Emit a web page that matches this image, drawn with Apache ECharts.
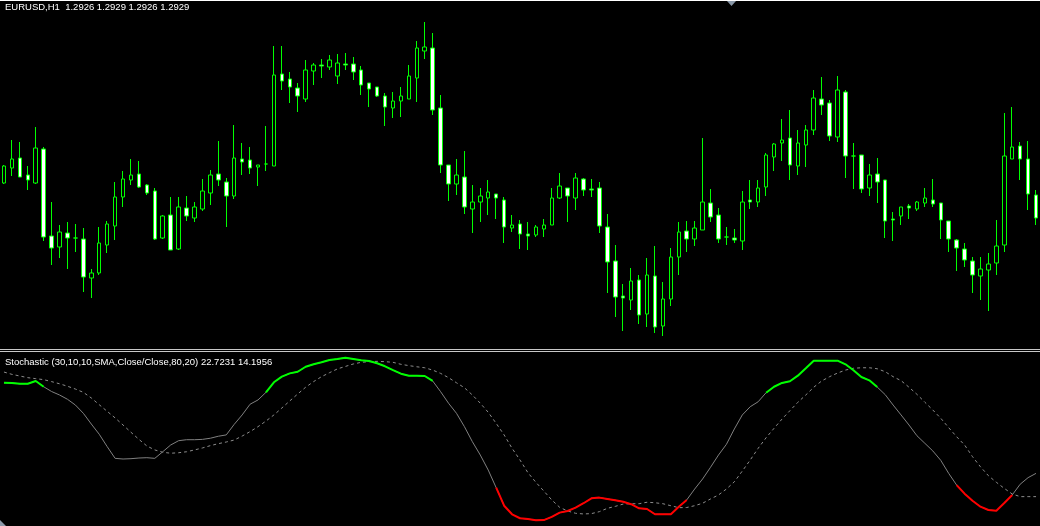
<!DOCTYPE html>
<html><head><meta charset="utf-8">
<script src="https://cdn.jsdelivr.net/npm/echarts@6/dist/echarts.min.js"></script>
<style>html,body{margin:0;padding:0;background:#000;overflow:hidden}#c{width:1040px;height:526px}</style>
</head><body><div id="c"></div>
<script>
// EURUSD H1 candles (open, close, low, high), oldest -> newest as shown
const opens = [
1.2947,1.2962,1.2972,1.2955,1.2947,1.2981,1.2894,1.2883,1.2897,1.2892,
1.2891,1.2852,1.2857,1.2885,1.2904,1.2933,1.2950,1.2956,1.2945,1.2939,
1.2892,1.2915,1.2881,1.2922,1.2912,1.2921,1.2937,1.2956,1.2948,1.2934,
1.2971,1.2970,1.2963,1.2966,1.2964,1.3056,1.3051,1.3042,1.3031,1.3059,
1.3065,1.3063,1.3054,1.3066,1.3066,1.3060,1.3047,1.3043,1.3034,1.3022,
1.3029,1.3031,1.3052,1.3079,1.3082,1.3022,1.2965,1.2946,1.2953,1.2921,
1.2928,1.2932,1.2936,1.2930,1.2902,1.2906,1.2896,1.2895,1.2901,1.2905,
1.2932,1.2942,1.2932,1.2951,1.2941,1.2942,1.2903,1.2869,1.2834,1.2830,
1.2850,1.2816,1.2854,1.2804,1.2831,1.2873,1.2899,1.2891,1.2900,1.2927,
1.2915,1.2893,1.2892,1.2889,1.2930,1.2928,1.2943,1.2973,1.2987,1.2992,
1.2964,1.2985,1.3000,1.3031,1.3027,1.2993,1.3038,1.2974,1.2975,1.2942,
1.2956,1.2950,1.2911,1.2914,1.2924,1.2921,1.2927,1.2930,1.2927,1.2909,
1.2890,1.2881,1.2869,1.2854,1.2860,1.2867,1.2885,1.2971,1.2984,1.2971,
1.2935];
const closes = [
1.2964,1.2971,1.2953,1.2950,1.2982,1.2893,1.2882,1.2898,1.2892,1.2892,
1.2853,1.2857,1.2887,1.2906,1.2933,1.2951,1.2955,1.2943,1.2937,1.2891,
1.2914,1.2880,1.2923,1.2914,1.2923,1.2939,1.2955,1.2950,1.2934,1.2972,
1.2968,1.2962,1.2965,1.2966,1.3055,1.3049,1.3043,1.3034,1.3060,1.3065,
1.3064,1.3070,1.3067,1.3065,1.3058,1.3045,1.3041,1.3034,1.3023,1.3029,
1.3034,1.3054,1.3082,1.3083,1.3020,1.2965,1.2946,1.2955,1.2923,1.2928,
1.2934,1.2938,1.2932,1.2903,1.2905,1.2896,1.2894,1.2903,1.2905,1.2932,
1.2944,1.2934,1.2952,1.2940,1.2940,1.2904,1.2868,1.2833,1.2832,1.2849,
1.2815,1.2855,1.2803,1.2831,1.2873,1.2898,1.2891,1.2902,1.2928,1.2913,
1.2891,1.2893,1.2890,1.2928,1.2928,1.2942,1.2975,1.2986,1.2990,1.2965,
1.2987,1.3000,1.3032,1.3025,1.2994,1.3040,1.2974,1.2974,1.2941,1.2955,
1.2948,1.2909,1.2910,1.2923,1.2922,1.2928,1.2932,1.2926,1.2910,1.2891,
1.2882,1.2870,1.2855,1.2861,1.2866,1.2884,1.2974,1.2983,1.2971,1.2936,
1.2912];
const lows = [
1.2946,1.2954,1.2953,1.2940,1.2946,1.2889,1.2865,1.2872,1.2861,1.2878,
1.2838,1.2832,1.2855,1.2877,1.2890,1.2923,1.2945,1.2942,1.2935,1.2890,
1.2891,1.2880,1.2880,1.2909,1.2908,1.2919,1.2925,1.2944,1.2903,1.2931,
1.2955,1.2956,1.2944,1.2959,1.2964,1.3040,1.3027,1.3018,1.3028,1.3045,
1.3052,1.3060,1.3046,1.3060,1.3050,1.3035,1.3023,1.3033,1.3004,1.3012,
1.3013,1.3031,1.3028,1.3071,1.3015,1.2957,1.2929,1.2935,1.2916,1.2897,
1.2908,1.2915,1.2911,1.2887,1.2898,1.2881,1.2880,1.2893,1.2893,1.2905,
1.2931,1.2908,1.2920,1.2934,1.2933,1.2897,1.2837,1.2813,1.2799,1.2820,
1.2806,1.2803,1.2797,1.2794,1.2824,1.2855,1.2878,1.2884,1.2900,1.2908,
1.2887,1.2885,1.2887,1.2880,1.2921,1.2923,1.2934,1.2959,1.2969,1.2950,
1.2955,1.2963,1.2995,1.3015,1.2989,1.2988,1.2952,1.2941,1.2937,1.2934,
1.2927,1.2892,1.2889,1.2905,1.2911,1.2919,1.2923,1.2923,1.2891,1.2878,
1.2859,1.2863,1.2837,1.2830,1.2819,1.2855,1.2878,1.2971,1.2950,1.2920,
1.2905];
const highs = [
1.2965,1.2990,1.2988,1.2964,1.3003,1.2983,1.2928,1.2905,1.2908,1.2906,
1.2902,1.2861,1.2903,1.2909,1.2948,1.2959,1.2971,1.2969,1.2946,1.2942,
1.2915,1.2933,1.2933,1.2934,1.2928,1.2951,1.2960,1.2989,1.2952,1.3005,
1.2987,1.2983,1.2965,1.3004,1.3084,1.3084,1.3058,1.3047,1.3070,1.3067,
1.3071,1.3075,1.3076,1.3077,1.3073,1.3064,1.3047,1.3043,1.3037,1.3038,
1.3043,1.3065,1.3089,1.3108,1.3097,1.3035,1.2965,1.2971,1.2979,1.2945,
1.2942,1.2950,1.2936,1.2933,1.2915,1.2910,1.2908,1.2905,1.2911,1.2942,
1.2957,1.2942,1.2957,1.2952,1.2951,1.2948,1.2916,1.2885,1.2846,1.2862,
1.2855,1.2872,1.2884,1.2848,1.2882,1.2908,1.2909,1.2909,1.2992,1.2941,
1.2922,1.2903,1.2901,1.2939,1.2950,1.2950,1.2977,1.2987,1.3011,1.3020,
1.3000,1.3005,1.3040,1.3053,1.3030,1.3054,1.3040,1.2987,1.2975,1.2966,
1.2972,1.2950,1.2918,1.2923,1.2926,1.2929,1.2942,1.2951,1.2927,1.2909,
1.2891,1.2887,1.2873,1.2873,1.2877,1.2910,1.3017,1.3023,1.2988,1.2989,
1.2940];
// Stochastic (30,10,10) main and signal lines
const stochMain = [
84.8,84.7,84.2,84.2,85.9,82.4,79.5,77.4,74.8,71.3,
66.3,59.8,53.6,46.1,39.0,38.6,38.8,39.2,39.4,39.0,
43.0,47.1,49.7,50.3,50.3,50.5,51.2,52.4,53.2,59.6,
65.3,71.8,74.4,79.0,85.1,88.5,90.5,91.5,94.5,96.0,
97.2,98.6,99.2,100.0,99.2,98.4,98.0,96.6,94.8,92.5,
90.3,89.1,89.1,88.9,85.9,79.4,72.4,66.3,58.2,49.1,
41.0,31.9,21.2,10.3,5.1,2.7,2.2,1.5,1.6,3.5,
6.1,7.1,9.1,11.8,14.8,15.2,14.4,13.6,12.7,11.2,
8.7,8.3,5.1,5.1,5.1,9.7,13.8,20.4,26.5,33.6,
41.0,47.5,56.8,65.3,70.3,73.3,78.8,82.4,84.7,85.7,
89.1,93.6,98.2,98.2,98.2,98.2,96.0,92.4,88.3,86.3,
82.2,77.6,71.3,65.3,59.2,52.7,48.1,43.5,37.8,29.9,
22.8,17.6,13.3,9.7,7.7,7.3,11.9,16.8,23.3,27.3,
29.9];
const stochSignal = [
91.3,89.9,88.9,87.9,87.3,86.7,85.5,84.2,82.7,81.0,
79.0,75.6,71.5,67.5,63.5,59.2,54.8,50.5,46.5,44.1,
42.7,42.1,42.4,43.0,44.1,45.3,46.7,47.9,48.9,50.1,
52.5,55.2,58.2,61.6,65.3,69.5,73.8,78.0,82.1,85.5,
88.5,90.9,93.2,94.7,96.2,97.2,97.6,97.8,97.6,97.2,
96.0,95.2,94.5,93.9,92.5,90.5,87.9,84.8,81.8,77.4,
72.4,66.9,60.2,53.2,45.1,38.0,30.3,24.5,19.2,13.8,
9.3,7.1,5.7,5.3,5.5,6.7,8.7,9.9,11.3,11.5,
11.5,12.4,12.1,11.5,10.3,9.1,9.2,10.3,11.8,14.4,
16.8,20.4,24.8,31.3,38.0,45.1,51.5,57.2,62.8,67.9,
73.0,77.4,82.1,85.9,88.5,90.7,92.5,93.6,93.9,93.9,
93.3,91.5,88.5,86.1,82.1,77.8,73.0,68.3,63.3,57.6,
52.1,47.1,40.0,33.9,28.5,24.5,20.8,17.4,15.8,15.8,
15.8];
const levelUpper = 80;
const levelLower = 20;
const headerText = 'EURUSD,H1  1.2926 1.2929 1.2926 1.2929';
const stochText = 'Stochastic (30,10,10,SMA,Close/Close,80,20) 22.7231 14.1956';

const barIdx = opens.map((_, i) => String(i));
const candles = opens.map((o, i) => [o, closes[i], lows[i], highs[i]]);
function levelBuffer(test) {
  return stochMain.map((v, i) =>
    (test(v) || (i + 1 < stochMain.length && test(stochMain[i + 1]))) ? v : null);
}
const greenBuf = levelBuffer(v => v > levelUpper);
const redBuf = levelBuffer(v => v < levelLower);

const chart = echarts.init(document.getElementById('c'), null, {renderer: 'canvas'});
const FONT = 'Liberation Sans';
chart.setOption({
  backgroundColor: '#000',
  animation: false,
  title: [
    {text: headerText, left: 5, top: 2, padding: 0,
     textStyle: {color: '#ffffff', fontSize: 9.5, fontWeight: 'normal', fontFamily: FONT}},
    {text: stochText, left: 5, top: 357, padding: 0,
     textStyle: {color: '#ffffff', fontSize: 9.5, fontWeight: 'normal', fontFamily: FONT}}
  ],
  grid: [
    {left: -2.5, top: 0, width: 1048, height: 348},
    {left: -2.5, top: 357.7, width: 1048, height: 165}
  ],
  xAxis: [
    {type: 'category', data: barIdx, gridIndex: 0, show: false, boundaryGap: true},
    {type: 'category', data: barIdx, gridIndex: 1, show: false, boundaryGap: true}
  ],
  yAxis: [
    {type: 'value', gridIndex: 0, min: 1.2782, max: 1.3130, show: false, splitLine: {show: false}},
    {type: 'value', gridIndex: 1, min: 0, max: 100, show: false, splitLine: {show: false}}
  ],
  series: [
    {type: 'candlestick', xAxisIndex: 0, yAxisIndex: 0, data: candles, barWidth: 4,
     itemStyle: {color: '#000000', color0: '#ffffff', borderColor: '#00ff00',
                 borderColor0: '#00ff00', borderColorDoji: '#00ff00', borderWidth: 1}},
    {type: 'line', xAxisIndex: 1, yAxisIndex: 1, data: stochSignal, showSymbol: false, clip: false,
     lineStyle: {color: '#8c8c8c', width: 1, type: [3, 3]}, z: 2},
    {type: 'line', xAxisIndex: 1, yAxisIndex: 1, data: stochMain, showSymbol: false, clip: false,
     lineStyle: {color: '#808080', width: 1}, z: 3},
    {type: 'line', xAxisIndex: 1, yAxisIndex: 1, data: greenBuf, showSymbol: false, clip: false,
     connectNulls: false, lineStyle: {color: '#00ff00', width: 2}, z: 4},
    {type: 'line', xAxisIndex: 1, yAxisIndex: 1, data: redBuf, showSymbol: false, clip: false,
     connectNulls: false, lineStyle: {color: '#ff0000', width: 2}, z: 4}
  ],
  graphic: [
    {type: 'rect', shape: {x: 0, y: 0, width: 1040, height: 1}, style: {fill: '#ffffff'}},
    {type: 'rect', shape: {x: 0, y: 349, width: 1040, height: 1}, style: {fill: '#c8c8c8'}},
    {type: 'rect', shape: {x: 0, y: 351, width: 1040, height: 1}, style: {fill: '#c8c8c8'}},
    {type: 'polygon', shape: {points: [[727, 1], [736, 1], [731.5, 6]]}, style: {fill: '#8a98a8'}},
    {type: 'polygon', shape: {points: [[0, 520], [0, 526], [6, 526]]}, style: {fill: '#8a98a8'}}
  ]
});
</script></body></html>
